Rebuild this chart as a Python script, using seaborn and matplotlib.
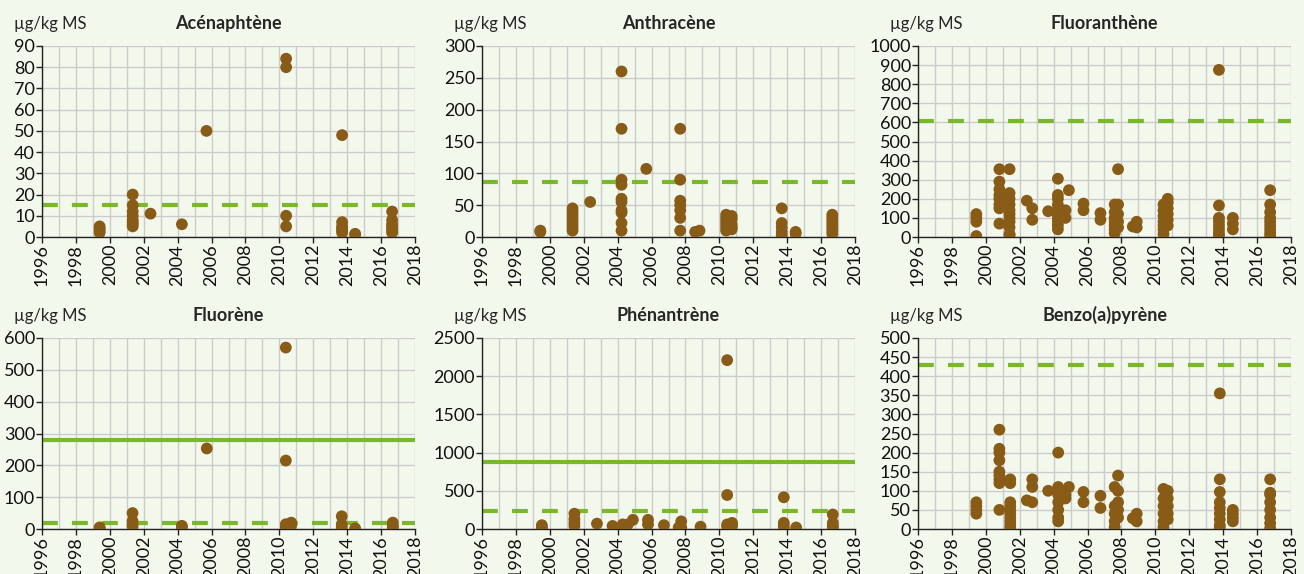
import numpy as np
import pandas as pd
import seaborn as sns
import matplotlib.pyplot as plt
from matplotlib.ticker import MultipleLocator

sns.set_style("white")
plt.rcParams["font.family"] = ["Lato", "DejaVu Sans"]

bg = "#f3f8ed"
brown = "#885b17"
green = "#7ab82a"

# (year, [values]) groups
acen = [(1999.4, [2, 3, 4, 5]), (2001.35, [20, 15, 12, 10, 8, 7, 6, 5]),
        (2002.4, [11]), (2004.25, [6]), (2005.7, [50]),
        (2010.4, [84, 80, 10, 5]), (2013.7, [48, 7, 5, 4, 3, 2]),
        (2014.47, [1, 1.5]), (2016.65, [12, 8, 6, 5, 4, 3, 2])]
anth = [(1999.44, [8, 10]), (2001.34, [45, 40, 35, 30, 25, 20, 15, 10]),
        (2002.38, [55]), (2004.23, [260, 170, 90, 82, 60, 55, 42, 38, 22, 10]),
        (2005.69, [107]), (2007.69, [170, 90, 57, 50, 42, 30, 10]),
        (2008.57, [8]), (2008.83, [10]),
        (2010.4, [35, 30, 25, 20, 15, 10]), (2010.73, [33, 28, 20, 15, 12]),
        (2013.68, [45, 22, 15, 8, 3]), (2014.5, [8, 5]),
        (2016.66, [35, 30, 25, 20, 15, 10, 5])]
fluoranth = [(1999.44, [120, 100, 80, 5]), (2000.8, [355, 290, 250, 220, 200, 170, 150, 70]),
             (2001.4, [355, 230, 200, 170, 140, 120, 100, 80, 50, 15, 10]),
             (2002.42, [190]), (2002.74, [150, 90]), (2003.68, [135]),
             (2004.25, [305, 220, 200, 170, 140, 120, 100, 80, 60, 40]),
             (2004.7, [140, 100]), (2004.9, [245]), (2005.76, [175, 140]),
             (2006.76, [125, 90]), (2007.6, [170, 130, 100, 80, 60, 40, 20]),
             (2007.8, [355, 170, 120, 80, 50]), (2008.67, [55]), (2008.9, [80, 50]),
             (2010.48, [170, 140, 110, 80, 60, 40, 15]),
             (2010.73, [200, 180, 150, 120, 90, 60]),
             (2013.75, [875, 165, 100, 80, 60, 40, 20, 5]), (2014.57, [100, 70, 40]),
             (2016.77, [245, 170, 130, 100, 80, 60, 40, 20, 5])]
fluorene = [(1999.4, [3, 5]), (2001.34, [50, 25, 15, 8]), (2004.25, [10, 5]),
            (2005.72, [253]), (2010.38, [570, 215, 15, 5]), (2010.7, [20, 12]),
            (2013.68, [40, 15, 5]), (2014.47, [2]), (2016.69, [20, 10, 3])]
phen = [(1999.53, [50, 20, 5]), (2001.45, [200, 130, 80, 40]), (2002.78, [70]),
        (2003.7, [40]), (2004.3, [60, 10]), (2004.6, [60]), (2004.9, [120]),
        (2005.79, [120, 60]), (2006.73, [50]), (2007.6, [20]), (2007.75, [100, 20]),
        (2008.89, [30]), (2010.46, [2210, 445, 60, 30]), (2010.75, [80, 40]),
        (2013.8, [415, 80, 40, 5]), (2014.53, [20]), (2016.69, [190, 80, 40, 10])]
bap = [(1999.44, [70, 60, 50, 40]), (2000.8, [260, 210, 200, 180, 150, 140, 130, 120, 50]),
       (2001.44, [130, 120, 70, 60, 50, 40, 30, 20, 10, 2]),
       (2002.42, [75]), (2002.74, [130, 110, 70]), (2003.68, [100]),
       (2004.27, [200, 110, 90, 70, 50, 30, 20]), (2004.7, [90, 80]), (2004.9, [110]),
       (2005.76, [97, 70]), (2006.76, [87, 55]),
       (2007.6, [110, 60, 40, 20, 5]), (2007.8, [140, 100, 70, 50, 30]),
       (2008.67, [28]), (2008.9, [40, 20]),
       (2010.48, [105, 80, 60, 40, 20, 5]), (2010.73, [100, 80, 60, 40, 25]),
       (2013.8, [355, 130, 97, 70, 55, 40, 25, 10, 2]), (2014.57, [50, 40, 30, 20]),
       (2016.77, [130, 95, 90, 70, 50, 30, 15, 2])]

titles = ["Acénaphtène", "Anthracène", "Fluoranthène", "Fluorène", "Phénantrène", "Benzo(a)pyrène"]
groups = [acen, anth, fluoranth, fluorene, phen, bap]
ymax = [90, 300, 1000, 600, 2500, 500]
ystep = [10, 50, 100, 100, 500, 50]
dashed = [15, 87, 605, 18, 240, 430]
solid = [None, None, None, 280, 875, None]

fig = plt.figure(figsize=(13.04, 5.74), dpi=100, facecolor=bg)
lefts = [42, 482, 918]
bottoms = [237, 529]
W, H = 1304, 574

for i in range(6):
    r, c = divmod(i, 3)
    ax = fig.add_axes([lefts[c] / W, 1 - bottoms[r] / H, 373 / W, 191 / H])
    ax.set_facecolor(bg)
    rows = [(x, v) for x, vals in groups[i] for v in vals]
    df = pd.DataFrame(rows, columns=["annee", "valeur"])

    ax.axhline(dashed[i], color=green, lw=3, dashes=(3.8, 3.4), zorder=2)
    if solid[i] is not None:
        ax.axhline(solid[i], color=green, lw=3, zorder=2)
    sns.scatterplot(data=df, x="annee", y="valeur", ax=ax, color=brown,
                    s=72, edgecolor="none", zorder=3)

    ax.set_xlim(1996, 2018)
    ax.set_ylim(0, ymax[i])
    ax.xaxis.set_major_locator(MultipleLocator(2))
    ax.xaxis.set_minor_locator(MultipleLocator(1))
    ax.yaxis.set_major_locator(MultipleLocator(ystep[i]))
    ax.grid(True, which="both", axis="x", color="#cbcbcb", lw=1, zorder=0)
    ax.grid(True, which="major", axis="y", color="#cbcbcb", lw=1, zorder=0)
    ax.set_axisbelow(True)
    for s in ["top", "right"]:
        ax.spines[s].set_visible(False)
    for s in ["left", "bottom"]:
        ax.spines[s].set_color("#222222")
        ax.spines[s].set_linewidth(1)
    ax.tick_params(axis="both", which="major", labelsize=13, length=4,
                   width=1, color="#222222", labelcolor="#111111", pad=1,
                   bottom=True, left=True)
    ax.tick_params(axis="x", which="minor", length=0)
    ax.tick_params(axis="x", labelrotation=90)
    ax.set_xlabel("")
    ax.set_ylabel("")
    ax.set_title(titles[i], fontsize=13, fontweight="bold", pad=12)
    ax.text(-0.075, 1.115, "µg/kg MS", transform=ax.transAxes, fontsize=12,
            ha="left", va="center")

fig.savefig("out.png", dpi=100, facecolor=bg)
